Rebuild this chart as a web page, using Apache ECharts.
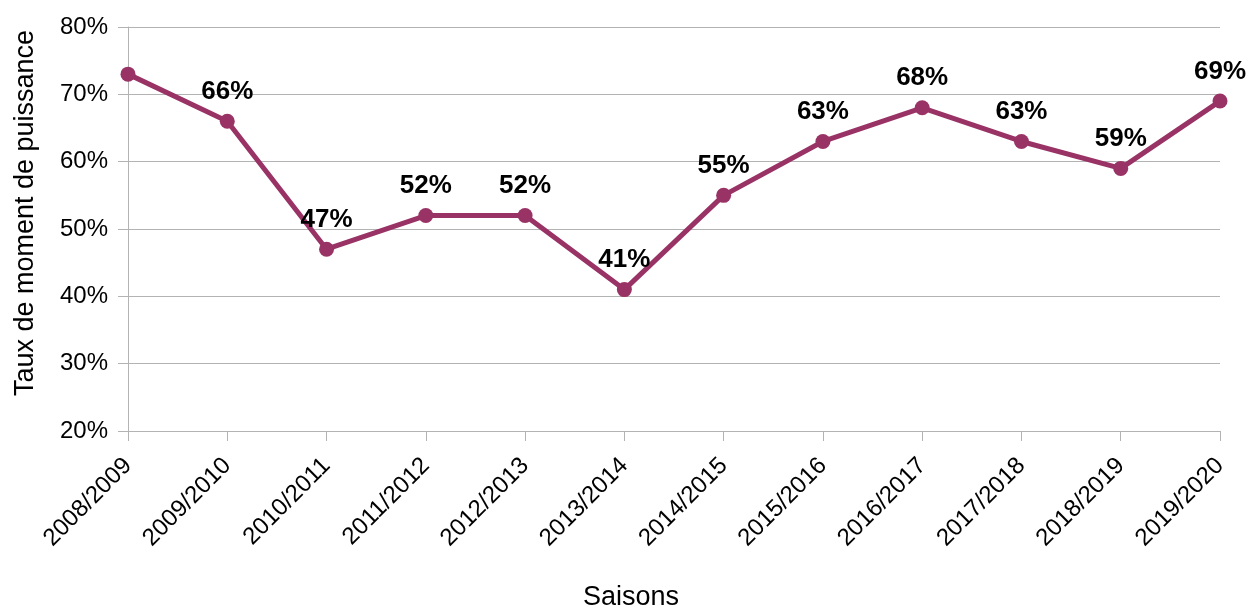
<!DOCTYPE html>
<html><head><meta charset="utf-8">
<script src="https://cdn.jsdelivr.net/npm/echarts@6/dist/echarts.min.js"></script>
<style>html,body{margin:0;padding:0;background:#fff}#c{width:1251px;height:608px}</style>
</head><body><div id="c"></div>
<script>
const categories = ['2008/2009','2009/2010','2010/2011','2011/2012','2012/2013','2013/2014','2014/2015','2015/2016','2016/2017','2017/2018','2018/2019','2019/2020'];
const values = [73, 66, 47, 52, 52, 41, 55, 63, 68, 63, 59, 69];
const showLabel = [false, true, true, true, true, true, true, true, true, true, true, true];
const yTicks = [20, 30, 40, 50, 60, 70, 80];

const chart = echarts.init(document.getElementById('c'));
const font = '"Liberation Sans", Arial, sans-serif';
chart.setOption({
  animation: false,
  grid: {left: 128, right: 31, top: 27, bottom: 177, containLabel: false, outerBoundsMode: 'none'},
  xAxis: {
    type: 'category', data: categories, boundaryGap: false,
    name: 'Saisons', nameLocation: 'middle', nameGap: 153, nameMoveOverlap: false,
    nameTextStyle: {fontFamily: font, fontSize: 27, color: '#000', padding: [0, 86, 0, 0]},
    axisLine: {lineStyle: {color: '#b3b3b3', width: 1}},
    axisTick: {show: true, length: 10, lineStyle: {color: '#b3b3b3'}, alignWithLabel: true},
    axisLabel: {rotate: 45, fontFamily: font, fontSize: 24, color: '#000', margin: 31, interval: 0},
    splitLine: {show: false}
  },
  yAxis: {
    type: 'value', min: yTicks[0], max: yTicks[yTicks.length-1], interval: 10,
    name: 'Taux de moment de puissance', nameLocation: 'middle', nameGap: 89, nameMoveOverlap: false,
    nameTextStyle: {fontFamily: font, fontSize: 27, color: '#000', padding: [0, 0, 0, 32]},
    axisLine: {show: true, lineStyle: {color: '#b3b3b3', width: 1}},
    axisTick: {show: true, length: 10, lineStyle: {color: '#b3b3b3'}},
    axisLabel: {formatter: v => v + '%', fontFamily: font, fontSize: 24, color: '#000', margin: 20},
    splitLine: {lineStyle: {color: '#b3b3b3', width: 1}}
  },
  series: [{
    type: 'line',
    data: values.map((v, i) => ({value: v, label: {show: showLabel[i]}})),
    symbol: 'circle', symbolSize: 15,
    lineStyle: {color: '#993366', width: 5},
    itemStyle: {color: '#993366'},
    label: {position: 'top', distance: 9, formatter: p => p.value + '%', fontFamily: font, fontSize: 26, fontWeight: 'bold', color: '#000'}
  }]
});
</script></body></html>
